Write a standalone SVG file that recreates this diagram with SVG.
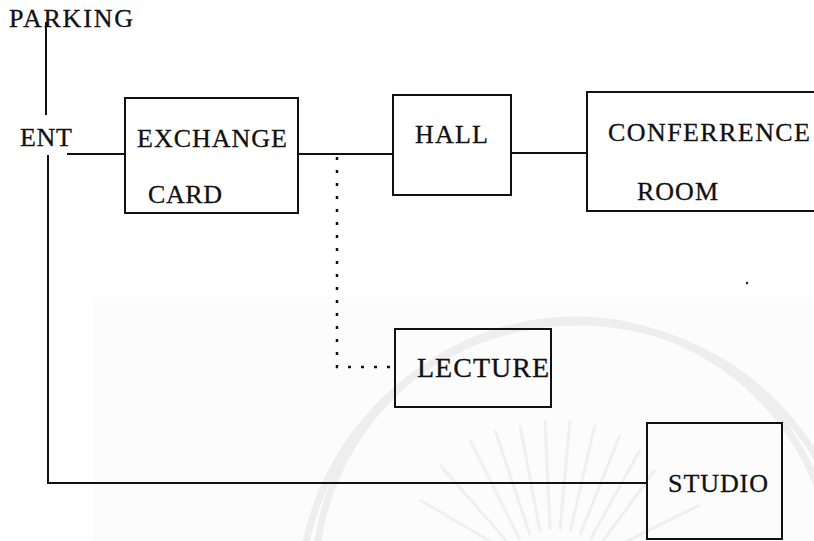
<svg xmlns="http://www.w3.org/2000/svg" width="814" height="541" viewBox="0 0 814 541">
  <style>
    .box { fill: none; stroke: #111; stroke-width: 2; }
    .wire { fill: none; stroke: #111; stroke-width: 2; }
    .dot { fill: none; stroke: #111; stroke-width: 2.5; stroke-dasharray: 3 10; }
    .lbl { font-family: "Liberation Serif", "Times New Roman", serif; font-size: 26px; fill: #111; stroke: #111; stroke-width: 0.3; }
    .wm { fill: none; stroke: #eeeeee; stroke-width: 7; }
    .ray { stroke: #f0f0f0; stroke-width: 3; }
  </style>
  <rect x="0" y="0" width="814" height="541" fill="#ffffff"/>
  <g id="watermark">
    <rect x="93" y="297" width="721" height="244" fill="#fcfcfc"/>
    <path class="wm" d="M 315 580 A 260 260 0 0 1 835 580"/>
    <path class="wm" d="M 300 600 A 278 278 0 0 1 856 600"/>
    <g class="ray">
      <line x1="520" y1="540" x2="470" y2="440"/>
      <line x1="530" y1="535" x2="495" y2="430"/>
      <line x1="540" y1="532" x2="520" y2="425"/>
      <line x1="550" y1="530" x2="545" y2="420"/>
      <line x1="560" y1="530" x2="570" y2="420"/>
      <line x1="570" y1="532" x2="595" y2="425"/>
      <line x1="580" y1="535" x2="620" y2="435"/>
      <line x1="590" y1="540" x2="640" y2="450"/>
      <line x1="510" y1="545" x2="440" y2="465"/>
      <line x1="600" y1="545" x2="655" y2="470"/>
      <line x1="505" y1="550" x2="420" y2="500"/>
      <line x1="605" y1="552" x2="700" y2="505"/>
    </g>
  </g>
  <g id="connectors">
    <line class="wire" x1="46" y1="22" x2="46" y2="115"/>
    <line class="wire" x1="67" y1="154" x2="125" y2="154"/>
    <line class="wire" x1="298" y1="154" x2="393" y2="154"/>
    <line class="wire" x1="511" y1="153" x2="587" y2="153"/>
    <polyline class="dot" points="337,157 337,367 393,367"/>
    <polyline class="wire" points="48,155 48,483 647,483"/>
    <circle cx="747" cy="283" r="1.2" fill="#222"/>
  </g>
  <g id="parking">
    <text class="lbl" x="9" y="27" textLength="124" lengthAdjust="spacing">PARKING</text>
  </g>
  <g id="ent">
    <text class="lbl" x="20" y="146" textLength="52" lengthAdjust="spacing">ENT</text>
  </g>
  <g id="exchange-card">
    <rect class="box" x="125" y="98" width="173" height="115"/>
    <text class="lbl" x="137" y="147" textLength="150" lengthAdjust="spacing">EXCHANGE</text>
    <text class="lbl" x="148" y="203" textLength="74" lengthAdjust="spacing">CARD</text>
  </g>
  <g id="hall">
    <rect class="box" x="393" y="95" width="118" height="100"/>
    <text class="lbl" x="415" y="143" textLength="73" lengthAdjust="spacing">HALL</text>
  </g>
  <g id="conference-room">
    <rect class="box" x="587" y="92" width="240" height="119"/>
    <text class="lbl" x="608" y="141" textLength="202" lengthAdjust="spacing">CONFERRENCE</text>
    <text class="lbl" x="637" y="200" textLength="81" lengthAdjust="spacing">ROOM</text>
  </g>
  <g id="lecture">
    <rect class="box" x="395" y="329" width="156" height="78"/>
    <text class="lbl" x="417" y="377" style="font-size:28px" textLength="132" lengthAdjust="spacing">LECTURE</text>
  </g>
  <g id="studio">
    <rect class="box" x="647" y="423" width="135" height="116"/>
    <text class="lbl" x="668" y="492" textLength="100" lengthAdjust="spacing">STUDIO</text>
  </g>
</svg>
